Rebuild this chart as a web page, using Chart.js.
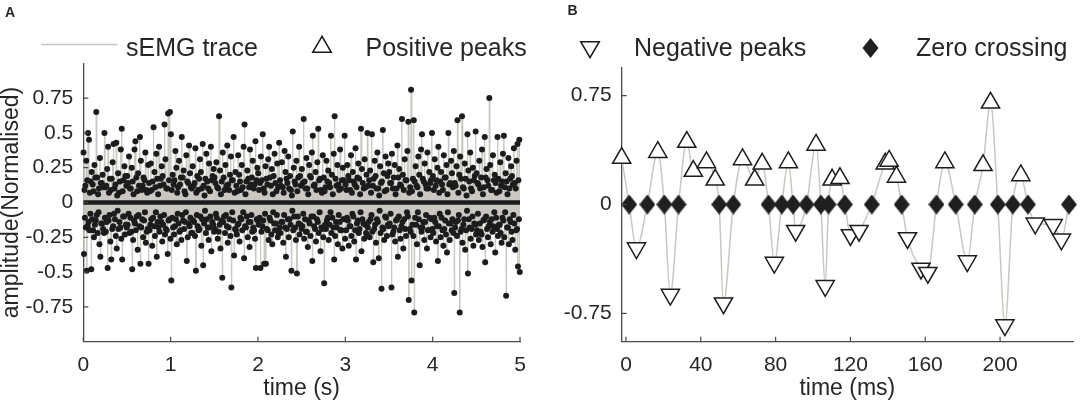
<!DOCTYPE html>
<html><head><meta charset="utf-8">
<script src="https://cdn.jsdelivr.net/npm/chart.js@4.4.1/dist/chart.umd.min.js"></script>
<style>
html,body{margin:0;padding:0;background:#fff;}
#wrap{position:relative;width:1085px;height:400px;overflow:hidden;font-family:'Liberation Sans',Arial,Helvetica,sans-serif;color:#262626;background:#fff;}
.box{position:absolute;top:0;height:400px;}
.lt{position:absolute;font-size:25px;line-height:30px;white-space:nowrap;top:31.8px;}
.pl{position:absolute;font-weight:bold;font-size:14px;line-height:14px;}
</style></head><body>
<div id="wrap">
 <div class="box" style="left:0;width:540px"><canvas id="cA"></canvas></div>
 <div class="box" style="left:540px;width:545px"><canvas id="cB"></canvas></div>
 <svg width="1085" height="70" style="position:absolute;left:0;top:0">
  <line x1="41.4" y1="44.5" x2="117.5" y2="44.5" stroke="#c6c4bd" stroke-width="1.4"/>
  <polygon points="322,36.3 312.7,52.35 331.3,52.35" fill="#fff" stroke="#1a1a1a" stroke-width="1.5"/>
  <polygon points="590,57.7 580.7,41.65 599.3,41.65" fill="#fff" stroke="#1a1a1a" stroke-width="1.5"/>
  <polygon points="870.5,37.9 878.5,47.9 870.5,57.9 862.5,47.9" fill="#1f1f1f"/>
 </svg>
 <div class="lt" style="left:126px">sEMG trace</div>
 <div class="lt" style="left:365.5px">Positive peaks</div>
 <div class="lt" style="left:634px">Negative peaks</div>
 <div class="lt" style="left:916px">Zero crossing</div>
 <div class="pl" style="left:5px;top:5.2px">A</div>
 <div class="pl" style="left:567.5px;top:3.4px">B</div>
</div>
<script>
// ---------- Panel A: 5 s sEMG trace, peak values (normalised), 24 peak pairs per 0.25 s ----------
const posPeaksA = [
 0.36,0.09,0.12,0.30,0.16,0.50,0.45,0.07,0.15,0.22,0.13,0.08,0.27,0.18,0.65,0.18,0.06,0.10,0.32,0.14,0.14,0.20,0.11,0.50,
 0.11,0.12,0.24,0.40,0.07,0.17,0.09,0.17,0.29,0.42,0.10,0.13,0.43,0.05,0.21,0.07,0.15,0.38,0.53,0.08,0.16,0.26,0.19,0.12,
 0.19,0.14,0.33,0.10,0.10,0.25,0.15,0.06,0.38,0.44,0.18,0.08,0.21,0.12,0.47,0.30,0.09,0.12,0.18,0.16,0.36,0.09,0.07,0.27,
 0.14,0.08,0.28,0.09,0.15,0.54,0.22,0.11,0.35,0.17,0.06,0.40,0.12,0.17,0.26,0.19,0.13,0.56,0.31,0.10,0.10,0.64,0.16,0.65,
 0.49,0.09,0.20,0.13,0.16,0.37,0.25,0.07,0.11,0.30,0.13,0.18,0.47,0.18,0.23,0.08,0.06,0.34,0.15,0.14,0.41,0.21,0.11,0.10,
 0.26,0.12,0.14,0.39,0.07,0.19,0.09,0.17,0.31,0.22,0.10,0.42,0.12,0.05,0.17,0.35,0.15,0.10,0.28,0.08,0.40,0.16,0.19,0.24,
 0.18,0.14,0.29,0.11,0.10,0.62,0.23,0.06,0.15,0.36,0.18,0.09,0.27,0.12,0.41,0.13,0.09,0.20,0.33,0.16,0.16,0.47,0.07,0.22,
 0.12,0.08,0.34,0.20,0.15,0.09,0.27,0.11,0.40,0.56,0.06,0.15,0.23,0.17,0.11,0.38,0.13,0.18,0.30,0.10,0.13,0.44,0.16,0.25,
 0.21,0.09,0.14,0.33,0.16,0.49,0.10,0.07,0.26,0.17,0.13,0.31,0.40,0.18,0.12,0.24,0.06,0.19,0.35,0.14,0.08,0.28,0.11,0.43,
 0.16,0.12,0.29,0.11,0.07,0.37,0.22,0.17,0.14,0.33,0.10,0.19,0.09,0.05,0.51,0.25,0.15,0.13,0.30,0.08,0.18,0.40,0.19,0.12,
 0.24,0.14,0.60,0.15,0.10,0.32,0.10,0.06,0.27,0.19,0.18,0.36,0.48,0.12,0.13,0.22,0.09,0.29,0.53,0.16,0.17,0.09,0.07,0.34,
 0.18,0.08,0.11,0.30,0.15,0.23,0.14,0.11,0.48,0.20,0.06,0.35,0.62,0.17,0.12,0.27,0.13,0.09,0.38,0.10,0.16,0.25,0.16,0.48,
 0.13,0.09,0.27,0.19,0.16,0.09,0.34,0.07,0.22,0.15,0.13,0.39,0.11,0.18,0.28,0.17,0.06,0.53,0.24,0.14,0.10,0.31,0.11,0.20,
 0.50,0.12,0.16,0.23,0.07,0.49,0.12,0.17,0.30,0.19,0.10,0.36,0.10,0.05,0.26,0.14,0.15,0.52,0.21,0.08,0.33,0.09,0.19,0.28,
 0.22,0.14,0.14,0.35,0.10,0.18,0.27,0.06,0.10,0.41,0.18,0.24,0.13,0.12,0.60,0.20,0.09,0.31,0.16,0.16,0.37,0.58,0.07,0.11,
 0.81,0.08,0.17,0.59,0.15,0.26,0.12,0.11,0.33,0.20,0.06,0.38,0.49,0.17,0.15,0.28,0.13,0.10,0.36,0.10,0.22,0.14,0.16,0.50,
 0.19,0.09,0.31,0.12,0.16,0.25,0.40,0.07,0.15,0.22,0.13,0.09,0.34,0.18,0.18,0.27,0.06,0.50,0.13,0.14,0.30,0.21,0.11,0.37,
 0.14,0.12,0.26,0.59,0.07,0.20,0.33,0.17,0.62,0.11,0.10,0.28,0.17,0.05,0.49,0.23,0.15,0.36,0.10,0.08,0.25,0.16,0.19,0.51,
 0.21,0.14,0.13,0.30,0.10,0.18,0.38,0.06,0.11,0.47,0.18,0.24,0.16,0.12,0.75,0.27,0.09,0.09,0.34,0.16,0.20,0.14,0.07,0.47,
 0.17,0.08,0.29,0.12,0.15,0.35,0.48,0.11,0.21,0.15,0.06,0.32,0.10,0.17,0.26,0.19,0.13,0.39,0.14,0.10,0.30,0.42,0.16,0.45
];
const negPeaksA = [
 -0.37,-0.11,-0.18,-0.49,-0.17,-0.14,-0.20,-0.08,-0.48,-0.12,-0.20,-0.25,-0.16,-0.13,-0.09,-0.22,-0.07,-0.30,-0.39,-0.15,-0.15,-0.19,-0.22,-0.11,
 -0.21,-0.14,-0.47,-0.13,-0.09,-0.28,-0.41,-0.19,-0.17,-0.08,-0.12,-0.24,-0.33,-0.06,-0.19,-0.14,-0.18,-0.26,-0.41,-0.10,-0.10,-0.23,-0.16,-0.18,
 -0.16,-0.08,-0.22,-0.11,-0.21,-0.48,-0.27,-0.13,-0.15,-0.20,-0.10,-0.34,-0.09,-0.17,-0.44,-0.18,-0.12,-0.25,-0.13,-0.07,-0.29,-0.21,-0.19,-0.44,
 -0.20,-0.16,-0.12,-0.31,-0.11,-0.17,-0.24,-0.07,-0.39,-0.14,-0.18,-0.21,-0.10,-0.14,-0.28,-0.16,-0.09,-0.23,-0.19,-0.20,-0.37,-0.13,-0.12,-0.26,
 -0.56,-0.11,-0.18,-0.23,-0.17,-0.12,-0.30,-0.08,-0.15,-0.21,-0.20,-0.27,-0.09,-0.13,-0.19,-0.14,-0.07,-0.42,-0.25,-0.15,-0.17,-0.11,-0.22,-0.22,
 -0.13,-0.14,-0.24,-0.49,-0.09,-0.17,-0.20,-0.19,-0.10,-0.31,-0.12,-0.45,-0.15,-0.06,-0.22,-0.12,-0.18,-0.27,-0.18,-0.10,-0.35,-0.14,-0.16,-0.21,
 -0.19,-0.08,-0.11,-0.26,-0.21,-0.16,-0.33,-0.13,-0.54,-0.14,-0.10,-0.22,-0.09,-0.17,-0.29,-0.18,-0.12,-0.24,-0.61,-0.07,-0.13,-0.38,-0.19,-0.20,
 -0.23,-0.16,-0.15,-0.28,-0.11,-0.12,-0.20,-0.07,-0.40,-0.17,-0.18,-0.10,-0.25,-0.14,-0.32,-0.14,-0.09,-0.21,-0.18,-0.20,-0.26,-0.47,-0.12,-0.13,
 -0.16,-0.11,-0.47,-0.21,-0.17,-0.13,-0.44,-0.08,-0.44,-0.19,-0.20,-0.27,-0.11,-0.13,-0.23,-0.30,-0.07,-0.15,-0.20,-0.15,-0.09,-0.25,-0.22,-0.18,
 -0.22,-0.14,-0.14,-0.29,-0.09,-0.18,-0.39,-0.19,-0.12,-0.25,-0.12,-0.16,-0.49,-0.06,-0.20,-0.10,-0.18,-0.27,-0.51,-0.10,-0.15,-0.23,-0.16,-0.19,
 -0.17,-0.08,-0.26,-0.12,-0.21,-0.21,-0.32,-0.13,-0.15,-0.24,-0.10,-0.42,-0.10,-0.17,-0.19,-0.28,-0.12,-0.14,-0.22,-0.07,-0.35,-0.18,-0.19,-0.25,
 -0.58,-0.16,-0.19,-0.13,-0.11,-0.27,-0.16,-0.07,-0.22,-0.11,-0.18,-0.41,-0.24,-0.14,-0.18,-0.30,-0.09,-0.14,-0.20,-0.20,-0.33,-0.12,-0.12,-0.26,
 -0.20,-0.11,-0.13,-0.31,-0.17,-0.17,-0.24,-0.08,-0.10,-0.28,-0.20,-0.41,-0.15,-0.13,-0.22,-0.19,-0.07,-0.35,-0.12,-0.15,-0.26,-0.16,-0.22,-0.23,
 -0.18,-0.14,-0.25,-0.12,-0.09,-0.21,-0.43,-0.19,-0.16,-0.29,-0.12,-0.14,-0.40,-0.06,-0.22,-0.62,-0.18,-0.19,-0.27,-0.10,-0.11,-0.24,-0.16,-0.17,
 -0.15,-0.08,-0.61,-0.23,-0.21,-0.18,-0.28,-0.13,-0.12,-0.39,-0.10,-0.20,-0.26,-0.17,-0.14,-0.33,-0.12,-0.19,-0.24,-0.07,-0.10,-0.70,-0.19,-0.21,
 -0.56,-0.16,-0.24,-0.79,-0.11,-0.16,-0.30,-0.07,-0.12,-0.45,-0.18,-0.21,-0.18,-0.14,-0.27,-0.14,-0.09,-0.33,-0.20,-0.20,-0.11,-0.25,-0.12,-0.19,
 -0.22,-0.11,-0.14,-0.28,-0.17,-0.42,-0.17,-0.08,-0.25,-0.11,-0.20,-0.31,-0.19,-0.13,-0.23,-0.36,-0.07,-0.15,-0.27,-0.15,-0.20,-0.12,-0.22,-0.65,
 -0.18,-0.14,-0.24,-0.13,-0.09,-0.79,-0.21,-0.19,-0.29,-0.16,-0.12,-0.34,-0.20,-0.06,-0.51,-0.12,-0.18,-0.26,-0.19,-0.10,-0.31,-0.15,-0.16,-0.23,
 -0.20,-0.08,-0.27,-0.15,-0.21,-0.23,-0.32,-0.13,-0.12,-0.43,-0.10,-0.19,-0.25,-0.17,-0.14,-0.30,-0.12,-0.21,-0.17,-0.07,-0.36,-0.11,-0.19,-0.24,
 -0.16,-0.16,-0.22,-0.29,-0.11,-0.13,-0.25,-0.07,-0.67,-0.18,-0.18,-0.30,-0.12,-0.14,-0.21,-0.27,-0.09,-0.15,-0.34,-0.20,-0.19,-0.46,-0.12,-0.50
];
const peakStepA = 0.0104167;          // s between successive positive/negative peak pairs
const zeroLineA = [0, 5];             // s, dense zero crossings along the whole trace
const xTicksA = [0, 1, 2, 3, 4, 5];
const yTicksA = [-0.75, -0.5, -0.25, 0, 0.25, 0.5, 0.75];

// ---------- Panel B: 240 ms detail ----------
const posTimeB = [-2.3, 17.0, 32.5, 36.0, 43.0, 47.7, 62.3, 68.8, 72.8, 86.8, 101.6, 110.2, 114.4, 138.6, 140.7, 144.6, 170.5, 190.9, 194.9, 211.1];
const posValB  = [0.32, 0.36, 0.43, 0.23, 0.29, 0.17, 0.31, 0.17, 0.28, 0.29, 0.41, 0.17, 0.18, 0.28, 0.30, 0.19, 0.29, 0.27, 0.70, 0.20];
const negTimeB = [5.6, 23.7, 52.1, 79.3, 90.7, 106.5, 120.0, 124.6, 150.5, 157.7, 161.4, 182.5, 202.6, 218.8, 228.4, 232.8];
const negValB  = [-0.30, -0.62, -0.68, -0.40, -0.18, -0.56, -0.21, -0.18, -0.23, -0.44, -0.47, -0.39, -0.83, -0.13, -0.14, -0.24];
const zeroTimeB = [1.7, 11.4, 20.5, 28.1, 49.8, 57.4, 76.2, 83.3, 89.3, 96.5, 104.2, 108.3, 117.0, 131.4, 147.4, 166.0, 176.3, 186.5, 198.8, 206.8, 214.9, 236.8];
const xTicksB = [0, 40, 80, 120, 160, 200];
const yTicksB = [-0.75, 0, 0.75];

// ---------- styles ----------
const TXT = '#262626', AX = '#4a4a4a', TRACE = '#c9c7c0', MARK = '#1c1c1c';
Chart.defaults.font.family = "'Liberation Sans', Arial, Helvetica, sans-serif";
Chart.defaults.color = TXT;

const innerTicks = {
  id: 'innerTicks',
  afterDraw(chart) {
    const {ctx, chartArea} = chart, xs = chart.scales.x, ys = chart.scales.y;
    ctx.save(); ctx.strokeStyle = AX; ctx.lineWidth = 1.2; ctx.beginPath();
    xs.ticks.forEach((t, i) => { const p = xs.getPixelForTick(i); ctx.moveTo(p, chartArea.bottom); ctx.lineTo(p, chartArea.bottom - 5); });
    ys.ticks.forEach((t, i) => { const p = ys.getPixelForTick(i); ctx.moveTo(chartArea.left, p); ctx.lineTo(chartArea.left + 5, p); });
    ctx.stroke(); ctx.restore();
  }
};

function scales(xr, yr, xt, yt, xTitle, yTitle, yW) {
  return {
    x: { type: 'linear', min: xr[0], max: xr[1],
      afterBuildTicks: s => { s.ticks = xt.map(v => ({value: v})); },
      afterFit: s => { s.height = 58.3; },
      grid: { display: false, drawTicks: false }, border: { display: true, color: AX, width: 1.3 },
      ticks: { padding: 11, color: TXT, font: { size: 21 }, maxRotation: 0, autoSkip: false, callback: v => String(v) },
      title: { display: true, text: xTitle, color: TXT, font: { size: 23, lineHeight: 1 }, padding: 0 } },
    y: { type: 'linear', min: yr[0], max: yr[1],
      afterBuildTicks: s => { s.ticks = yt.map(v => ({value: v})); },
      afterFit: s => { s.width = yW; },
      grid: { display: false, drawTicks: false }, border: { display: true, color: AX, width: 1.3 },
      ticks: { padding: 10, color: TXT, font: { size: 21 }, autoSkip: false, callback: v => String(v) },
      title: { display: !!yTitle, text: yTitle || '', color: TXT, font: { size: 23, lineHeight: 1 }, padding: { top: 0.5, bottom: 0 } } }
  };
}
const common = { responsive: true, maintainAspectRatio: false, animation: false, events: [],
  plugins: { legend: { display: false }, tooltip: { enabled: false } } };

// ---------- Chart A ----------
const posPtsA = posPeaksA.map((v, i) => ({x: (i + 0.25) * peakStepA, y: v}));
const negPtsA = negPeaksA.map((v, i) => ({x: (i + 0.75) * peakStepA, y: v}));
const tracePtsA = [];
posPtsA.forEach((p, i) => { tracePtsA.push(p, negPtsA[i]); });

new Chart(document.getElementById('cA'), {
  type: 'scatter',
  data: { datasets: [
    { label: 'Peaks', data: posPtsA.concat(negPtsA), order: 1, clip: false,
      pointRadius: 3, pointBackgroundColor: MARK, pointBorderWidth: 0 },
    { label: 'Zero crossing', data: zeroLineA.map(t => ({x: t, y: 0})), order: 2, showLine: true,
      borderColor: MARK, borderWidth: 4.5, pointRadius: 0 },
    { label: 'sEMG trace', data: tracePtsA, order: 3, showLine: true,
      borderColor: TRACE, borderWidth: 1, pointRadius: 0, tension: 0 }
  ]},
  options: Object.assign({}, common, {
    layout: { padding: { left: 0, right: 20, top: 63.3, bottom: 0 } },
    scales: scales([0, 5], [-1, 1], xTicksA, yTicksA, 'time (s)', 'amplitude(Normalised)', 83.3)
  }),
  plugins: [innerTicks]
});

// ---------- Chart B ----------
const posPtsB = posTimeB.map((t, i) => ({x: t, y: posValB[i]}));
const negPtsB = negTimeB.map((t, i) => ({x: t, y: negValB[i]}));
const zeroPtsB = zeroTimeB.map(t => ({x: t, y: 0}));
const tracePtsB = posPtsB.concat(negPtsB, zeroPtsB).sort((a, b) => a.x - b.x);

const diamond = document.createElement('canvas');
diamond.width = 16; diamond.height = 20;
(function () { const c = diamond.getContext('2d'); c.fillStyle = '#1f1f1f'; c.beginPath();
  c.moveTo(8, 0); c.lineTo(16, 10); c.lineTo(8, 20); c.lineTo(0, 10); c.closePath(); c.fill(); })();

new Chart(document.getElementById('cB'), {
  type: 'scatter',
  data: { datasets: [
    { label: 'Zero crossing', data: zeroPtsB, order: 1, clip: false,
      pointStyle: diamond, pointRadius: 9 },
    { label: 'Positive peaks', data: posPtsB, order: 2, clip: false,
      pointStyle: 'triangle', pointRadius: 10.5, pointBackgroundColor: '#fff', pointBorderColor: MARK, pointBorderWidth: 1.5 },
    { label: 'Negative peaks', data: negPtsB, order: 2, clip: false,
      pointStyle: 'triangle', pointRotation: 180, pointRadius: 10.5, pointBackgroundColor: '#fff', pointBorderColor: MARK, pointBorderWidth: 1.5 },
    { label: 'sEMG trace', data: tracePtsB, order: 3, showLine: true,
      borderColor: TRACE, borderWidth: 1.5, pointRadius: 0, cubicInterpolationMode: 'monotone' }
  ]},
  options: Object.assign({}, common, {
    layout: { padding: { left: 0, right: 5, top: 67.3, bottom: 0 } },
    scales: scales([-2.3, 239], [-0.945, 0.945], xTicksB, yTicksB, 'time (ms)', null, 81.7)
  }),
  plugins: [innerTicks]
});
</script>
</body></html>
